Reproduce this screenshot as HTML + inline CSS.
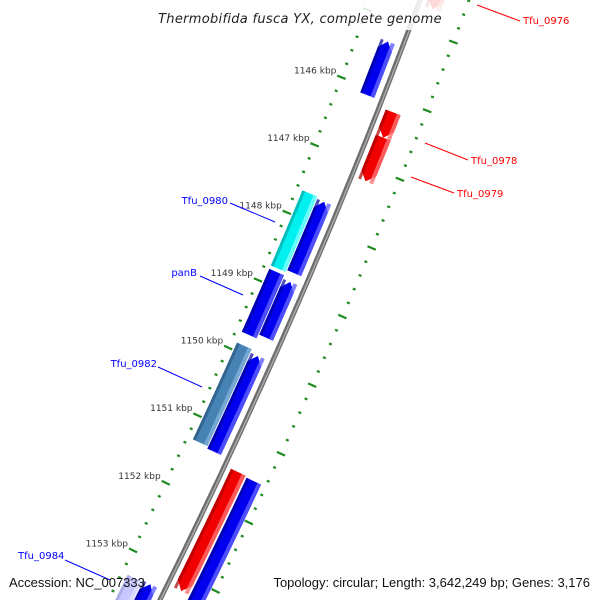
<!DOCTYPE html>
<html><head><meta charset="utf-8"><style>
html,body{margin:0;padding:0;background:#fff;width:600px;height:600px;overflow:hidden}
svg{display:block;font-family:"DejaVu Sans","Liberation Sans",sans-serif;overflow:hidden}
</style></head><body>
<svg id="map" width="600" height="600" viewBox="0 0 600 600" xmlns="http://www.w3.org/2000/svg">
<rect width="600" height="600" fill="#fff"/>
<g id="ticks"></g>
<g id="backbone"></g>
<g id="genes"></g>
<rect x="150" y="0" width="300" height="30" fill="#fff" opacity="0.85"/>
<g id="labels">
 <line x1="477" y1="5" x2="520" y2="21" stroke="#f00" stroke-width="1"/>
 <text x="523" y="24" font-size="10" fill="#f00">Tfu_0976</text>
 <line x1="425" y1="143" x2="468" y2="160" stroke="#f00" stroke-width="1"/>
 <text x="471" y="164" font-size="10" fill="#f00">Tfu_0978</text>
 <line x1="411" y1="177" x2="454" y2="193" stroke="#f00" stroke-width="1"/>
 <text x="457" y="197" font-size="10" fill="#f00">Tfu_0979</text>
 <line x1="230" y1="203" x2="275" y2="222" stroke="#00f" stroke-width="1"/>
 <text x="228" y="204" font-size="10" fill="#00f" text-anchor="end">Tfu_0980</text>
 <line x1="200" y1="276" x2="243" y2="295" stroke="#00f" stroke-width="1"/>
 <text x="197" y="276" font-size="10" fill="#00f" text-anchor="end">panB</text>
 <line x1="158" y1="367" x2="202" y2="387" stroke="#00f" stroke-width="1"/>
 <text x="157" y="367" font-size="10" fill="#00f" text-anchor="end">Tfu_0982</text>
 <line x1="65" y1="560" x2="110" y2="580" stroke="#00f" stroke-width="1"/>
 <text x="18" y="559" font-size="10" fill="#00f">Tfu_0984</text>
</g>
<text x="300" y="23" font-size="13" font-style="italic" fill="#222" text-anchor="middle" letter-spacing="0.3">Thermobifida fusca YX, complete genome</text>
<text x="9" y="587" font-size="13" fill="#111" font-family="Liberation Sans, sans-serif">Accession: NC_007333</text>
<text x="590" y="587" font-size="13" fill="#111" font-family="Liberation Sans, sans-serif" text-anchor="end">Topology: circular; Length: 3,642,249 bp; Genes: 3,176</text>
</svg>
<script>
const tickKbp = [1144, 1145, 1146, 1147, 1148, 1149, 1150, 1151, 1152, 1153, 1154];
const tickLabels = ["1144 kbp","1145 kbp","1146 kbp","1147 kbp","1148 kbp","1149 kbp","1150 kbp","1151 kbp","1152 kbp","1153 kbp","1154 kbp"];
const geneNames = ["Tfu_0976","Tfu_0977","Tfu_0978","Tfu_0979","Tfu_0980","Tfu_0980b","panB","Tfu_0981","Tfu_0982","Tfu_0983","Tfu_0983r","Tfu_0983b","Tfu_0984","Tfu_0984b"];
const geneStart = [1144.1, 1145.31, 1146.19, 1146.56, 1147.64, 1147.67, 1148.8, 1148.85, 1149.89, 1149.94, 1151.46, 1151.48, 1153.3, 1153.32];
const geneEnd   = [1144.68, 1146.1, 1146.56, 1147.2, 1148.75, 1148.72, 1149.73, 1149.67, 1151.32, 1151.35, 1153.2, 1154.2, 1154.0, 1154.0];
const geneRing  = [1, -1, 1, 1, -2, -1, -2, -1, -2, -1, 1, 2, -1, -2];
const geneColor = ["red","blue","red","red","cyan","blue","blue","blue","steel","blue","red","blue","blue","lightblue"];
const geneHead  = ["end","start","end","end","none","start","none","start","none","start","end","none","start","none"];

const NS="http://www.w3.org/2000/svg";
const A=0.370, C=0.000106;
function bOf(p){return 94+(p-1146)*68.1;}
function P(p,d){const b=bOf(p);const x=420-A*b-C*b*b;const s=A+2*C*b;const n=Math.sqrt(1+s*s);return [x+d/n,b+d*s/n];}
function mk(tag,attrs,parent){const e=document.createElementNS(NS,tag);for(const k in attrs)e.setAttribute(k,attrs[k]);parent.appendChild(e);return e;}
const pts=a=>a.map(q=>q[0].toFixed(1)+","+q[1].toFixed(1)).join(" ");

const bb=document.getElementById("backbone");
function bbPath(d){let s="";for(let p=1144.4;p<=1155;p+=0.1){const q=P(p,d);s+=(s?"L":"M")+q[0].toFixed(1)+" "+q[1].toFixed(1);}return s;}
let e=mk("path",{d:bbPath(0),stroke:"#6e6e6e","stroke-width":5,fill:"none"},bb);


e=mk("path",{d:bbPath(0.5),stroke:"#a8a8a8","stroke-width":1.5,fill:"none"},bb);



const tg=document.getElementById("ticks");
tickKbp.forEach((k,i)=>{
  for(let j=0;j<5;j++){
    const p=k+j*0.2;
    const major=j===0;
    [-46,46].forEach(d=>{
      const L=major?4.5:1.5;
      const a=P(p,d-L),b=P(p,d+L);
      const t=mk("line",{x1:a[0],y1:a[1],x2:b[0],y2:b[1],stroke:"#1f8a1f","stroke-width":2.2},tg);
      
      
    });
  }
  const q=P(k,-46);
  if(q[1]>40 && q[1]<580){
    const lb=mk("text",{x:(q[0]-5).toFixed(1),y:(q[1]-4).toFixed(1),"font-size":9,fill:"#333","text-anchor":"end"},tg);
    lb.textContent=tickLabels[i];
    
    
  }
});

const gg=document.getElementById("genes");
const pal={red:["#f00000","#a80000","#ff7070"],blue:["#0000ee","#00009a","#6060ff"],cyan:["#00f0f0","#00a8a8","#80ffff"],steel:["#4682b4","#2a5a80","#7fb0d8"],lightblue:["#c8c8ff","#a0a0e0","#e0e0ff"]};
const ringD={1:[7,23],2:[25,41],"-1":[-23,-8],"-2":[-40,-24]};
function shape(p1,p2,d1,d2,head){
  const h=0.12,m=(d1+d2)/2,L=[],R=[];
  let s=p1,e2=p2;
  if(head==="start")s=p1+h;
  if(head==="end")e2=p2-h;
  for(let i=0;i<=8;i++){const p=s+(e2-s)*i/8;L.push(P(p,d1));R.push(P(p,d2));}
  const out=[];
  if(head==="start")out.push(P(p1,m));
  out.push(...L);
  if(head==="end")out.push(P(p2,m));
  out.push(...R.reverse());
  return out;
}
geneNames.forEach((n,i)=>{
  const [d1,d2]=ringD[geneRing[i]];
  const c=pal[geneColor[i]];
  const g=mk("g",{},gg);
  
  
  mk("polygon",{points:pts(shape(geneStart[i],geneEnd[i],d1,d2,geneHead[i])),fill:c[0]},g);
  mk("polygon",{points:pts(shape(geneStart[i],geneEnd[i],d1,d1+3,"none")),fill:c[1],opacity:0.7},g);
  mk("polygon",{points:pts(shape(geneStart[i],geneEnd[i],d2-4,d2,"none")),fill:c[2],opacity:0.8},g);
});
</script>
</body></html>
